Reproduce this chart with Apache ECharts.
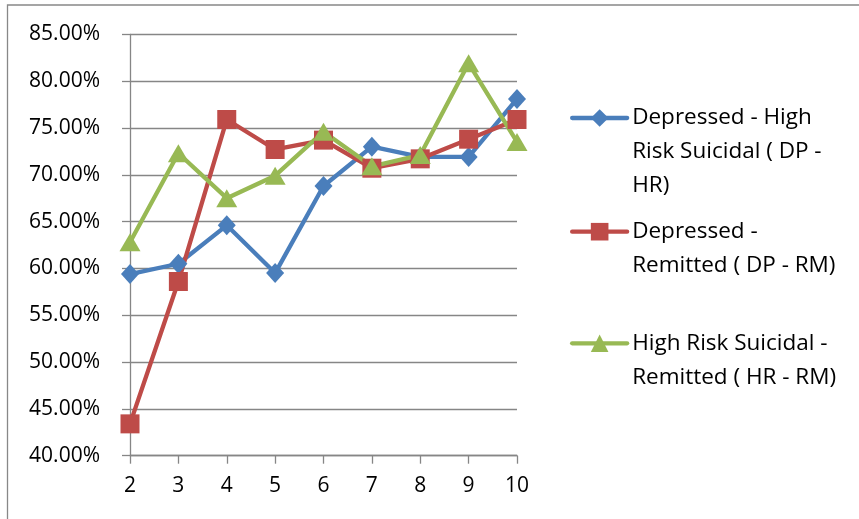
<!DOCTYPE html>
<html>
<head>
<meta charset="utf-8">
<script src="https://cdn.jsdelivr.net/npm/echarts@6/dist/echarts.min.js"></script>
<style>
html,body{margin:0;padding:0;background:#fff;}
#chart{width:859px;height:519px;}
</style>
</head>
<body>
<div id="chart"></div>
<script>
var categories = ['2','3','4','5','6','7','8','9','10'];
var dpHr = [59.4, 60.5, 64.6, 59.5, 68.8, 73.0, 71.9, 71.9, 78.1];
var dpRm = [43.4, 58.6, 75.9, 72.7, 73.7, 70.7, 71.7, 73.8, 75.9];
var hrRm = [62.8, 72.3, 67.5, 69.9, 74.6, 70.9, 72.1, 81.9, 73.5];
var seriesNames = [
  'Depressed - High\nRisk Suicidal ( DP -\nHR)',
  'Depressed -\nRemitted ( DP - RM)',
  'High Risk Suicidal -\nRemitted ( HR - RM)'
];
var yMin = 40, yMax = 85, yStep = 5;

var FONT = 'Open Sans';
var LH = 34;
var chart = echarts.init(document.getElementById('chart'), null, {renderer:'canvas'});

function legendFor(name, iconY, lines){
  var total = 2*lines - 1;
  return {
    data:[name], left:570, top:iconY - total*LH/2, orient:'vertical', padding:0,
    itemWidth:55, itemHeight:22, itemGap:0, selectedMode:false,
    lineStyle:{width:4.3, cap:'round'},
    formatter:function(n){ var pre=''; for(var i=1;i<lines;i++){pre+=' \n';} return pre + n; },
    textStyle:{fontFamily:FONT, fontSize:22.5, color:'#000', lineHeight:LH}
  };
}

function lineSeries(name, data, color, symbol, size){
  return {
    name:name, type:'line', data:data, symbol:symbol, symbolSize:size,
    lineStyle:{width:4.3, color:color}, itemStyle:{color:color},
    emphasis:{disabled:true}, animation:false, z:3
  };
}

chart.setOption({
  animation:false,
  graphic:[{type:'rect', shape:{x:7.5,y:5,width:900,height:600},
    style:{fill:'none', stroke:'#888', lineWidth:1.3}, silent:true}],
  grid:{left:130, right:342, top:34.3, bottom:63.3, containLabel:false},
  legend:[
    legendFor(seriesNames[0], 118, 3),
    legendFor(seriesNames[1], 231.7, 2),
    legendFor(seriesNames[2], 343.3, 2)
  ],
  xAxis:{
    type:'category', data:categories, boundaryGap:false,
    axisLine:{lineStyle:{color:'#868686', width:1.3}},
    axisTick:{show:true, length:8, lineStyle:{color:'#868686', width:1.3}},
    axisLabel:{fontFamily:FONT, fontSize:21, color:'#000', margin:20}
  },
  yAxis:{
    type:'value', min:yMin, max:yMax, interval:yStep,
    axisLine:{show:true, lineStyle:{color:'#868686', width:1.3}},
    axisTick:{show:true, length:8, lineStyle:{color:'#868686', width:1.3}},
    splitLine:{lineStyle:{color:'#868686', width:1.3}},
    axisLabel:{fontFamily:FONT, fontSize:21, color:'#000', margin:30,
      formatter:function(v){return v.toFixed(2)+'%';}}
  },
  series:[
    lineSeries(seriesNames[0], dpHr, '#4A7EBB', 'diamond', [18,20]),
    lineSeries(seriesNames[1], dpRm, '#BE4B48', 'rect', 19),
    lineSeries(seriesNames[2], hrRm, '#98B954', 'triangle', [21,18])
  ]
});
</script>
</body>
</html>
